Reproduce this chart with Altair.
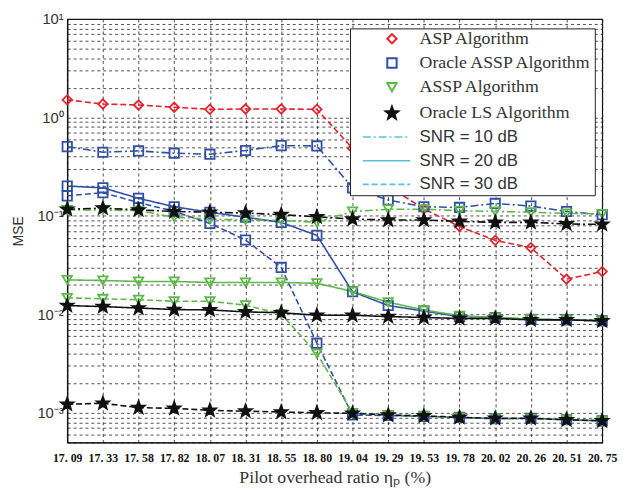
import altair as alt
import pandas as pd

# ---------------- data ----------------
x_labels = ["17.09", "17.33", "17.58", "17.82", "18.07", "18.31", "18.55", "18.80",
            "19.04", "19.29", "19.53", "19.78", "20.02", "20.26", "20.51", "20.75"]

algorithms = ["ASP Algorithm", "Oracle ASSP Algorithm", "ASSP Algorithm", "Oracle LS Algorithm"]
snrs = ["SNR = 10 dB", "SNR = 20 dB", "SNR = 30 dB"]

asp_30 = [1.51, 1.37, 1.34, 1.27, 1.21, 1.22, 1.22, 1.21, 0.486, 0.20, 0.118, 0.078,
          0.0565, 0.0477, 0.0228, 0.0272]

oassp_10 = [0.506, 0.444, 0.458, 0.434, 0.424, 0.462, 0.518, 0.514, 0.193, 0.145, 0.124,
            0.122, 0.134, 0.126, 0.111, 0.103]
oassp_20 = [0.201, 0.193, 0.151, 0.124, 0.109, 0.097, 0.086, 0.0635, 0.017, 0.0123, 0.0108,
            0.0095, 0.0093, 0.0089, 0.0088, 0.0086]
oassp_30 = [0.160, 0.172, 0.137, 0.111, 0.084, 0.057, 0.030, 0.0051, 0.00095, 0.00094,
            0.00092, 0.00090, 0.00087, 0.00088, 0.00085, 0.00083]

assp_10 = [0.115, 0.115, 0.113, 0.097, 0.093, 0.091, 0.090, 0.086, 0.111, 0.117, 0.117,
           0.113, 0.111, 0.109, 0.106, 0.105]
assp_20 = [0.0224, 0.0221, 0.0216, 0.0216, 0.0211, 0.0211, 0.0211, 0.0207, 0.0171, 0.0133,
           0.0111, 0.0097, 0.0093, 0.0090, 0.0088, 0.0086]
assp_30 = [0.0147, 0.0144, 0.0141, 0.0136, 0.0136, 0.0124, 0.0101, 0.0040, 0.00100, 0.00095,
           0.00093, 0.00090, 0.00087, 0.00087, 0.00085, 0.00083]

ols_10 = [0.117, 0.120, 0.115, 0.111, 0.109, 0.107, 0.103, 0.098, 0.093, 0.091, 0.091,
          0.088, 0.086, 0.086, 0.083, 0.082]
ols_20 = [0.0123, 0.0120, 0.0116, 0.0112, 0.0111, 0.0106, 0.0104, 0.0098, 0.0098, 0.0095,
          0.0093, 0.0091, 0.0091, 0.0088, 0.0088, 0.0086]
ols_30 = [0.00122, 0.00125, 0.00113, 0.00111, 0.00106, 0.00104, 0.00102, 0.00100, 0.00099,
          0.00095, 0.00093, 0.00090, 0.00088, 0.00088, 0.00085, 0.00083]

series = [
    (algorithms[0], snrs[2], asp_30),
    (algorithms[1], snrs[0], oassp_10),
    (algorithms[1], snrs[1], oassp_20),
    (algorithms[1], snrs[2], oassp_30),
    (algorithms[2], snrs[0], assp_10),
    (algorithms[2], snrs[1], assp_20),
    (algorithms[2], snrs[2], assp_30),
    (algorithms[3], snrs[0], ols_10),
    (algorithms[3], snrs[1], ols_20),
    (algorithms[3], snrs[2], ols_30),
]

rows = []
for order, (alg, snr, vals) in enumerate(series):
    for xl, v in zip(x_labels, vals):
        rows.append({"ratio": xl, "mse": v, "alg": alg, "snr": snr,
                     "sid": f"{alg}|{snr}", "order": order})
df = pd.DataFrame(rows)

# ---------------- styles ----------------
alg_colors = ["#e8202a", "#2f50a6", "#5cb947", "#111111"]
alg_fills = ["transparent", "transparent", "transparent", "#111111"]
star = ("M0,-1.4L0.34,-0.47L1.33,-0.43L0.55,0.18L0.82,1.13L0,0.57L-0.82,1.13"
        "L-0.55,0.18L-1.33,-0.43L-0.34,-0.47Z")
alg_shapes = ["diamond", "square", "triangle-down", star]
snr_dash = [[8, 3, 2, 3], [1, 0], [6, 3]]

y_values = []
for e in range(-4, 1):
    for k in range(1, 10):
        v = float(f"{k}e{e}")
        if 5e-4 <= v <= 10:
            y_values.append(v)
y_values.append(10.0)

label_expr = (
    "abs(log(datum.value)/LN10 - round(log(datum.value)/LN10)) > 0.001 ? '' : "
    "(round(log(datum.value)/LN10) == 1 ? '10\u00b9' : "
    "round(log(datum.value)/LN10) == 0 ? '10\u2070' : "
    "round(log(datum.value)/LN10) == -1 ? '10\u207b\u00b9' : "
    "round(log(datum.value)/LN10) == -2 ? '10\u207b\u00b2' : "
    "round(log(datum.value)/LN10) == -3 ? '10\u207b\u00b3' : '')"
)

x_enc = alt.X(
    "ratio:O", sort=x_labels,
    scale=alt.Scale(type="point", padding=0),
    axis=alt.Axis(title="Pilot overhead ratio \u03b7\u209a (%)", labelAngle=0,
                  labelExpr="replace(datum.label, '.', '. ')",
                  labelFont="Liberation Serif", labelFontWeight="bold", labelFontSize=12,
                  labelColor="#111", labelPadding=10, ticks=False,
                  titleFont="Liberation Serif", titleFontSize=18, titleFontWeight="normal",
                  titleColor="#333", titlePadding=6,
                  grid=True, gridDash=[3, 3], gridColor="#222", gridWidth=0.8,
                  domainColor="#111", domainWidth=1.2),
)
y_enc = alt.Y(
    "mse:Q",
    scale=alt.Scale(type="log", domain=[5e-4, 10], nice=False),
    axis=alt.Axis(title="MSE", values=y_values, labelExpr=label_expr,
                  labelFont="Liberation Sans", labelFontSize=15, labelColor="#333",
                  labelPadding=4, ticks=False, labelOverlap=False,
                  titleFont="Liberation Sans", titleFontSize=14, titleFontWeight="normal",
                  titleColor="#333", titlePadding=12,
                  grid=True, gridDash=[3, 3], gridColor="#222", gridWidth=0.8,
                  domainColor="#111", domainWidth=1.2),
)

alg_legend = alt.Legend(
    title=None, orient="none", legendX=320, legendY=11, padding=0,
    labelFont="Liberation Serif", labelFontSize=18, labelColor="#333", labelLimit=400,
    labelOffset=19, rowPadding=6.5, symbolSize=90, symbolStrokeWidth=2,
)

stroke_scale = alt.Scale(domain=algorithms, range=alg_colors)

lines = alt.Chart(df).mark_line(strokeWidth=1.6).encode(
    x=x_enc, y=y_enc,
    stroke=alt.Stroke("alg:N", scale=stroke_scale, legend=alg_legend),
    strokeDash=alt.StrokeDash(
        "snr:N", scale=alt.Scale(domain=snrs, range=snr_dash),
        legend=alt.Legend(title=None, orient="none", legendX=315, legendY=111,
                          padding=0, symbolType="M-4.8,0H4.8", symbolSize=100,
                          symbolStrokeColor="#55c3d8", symbolStrokeWidth=1.6,
                          labelFont="Liberation Sans", labelFontSize=17, labelLimit=400,
                          labelColor="#333", labelOffset=25, rowPadding=6)),
    detail="sid:N",
    order="order:Q",
)

points = alt.Chart(df).mark_point(size=90, strokeWidth=1.8, opacity=1).encode(
    x=x_enc, y=y_enc,
    stroke=alt.Stroke("alg:N", scale=stroke_scale, legend=alg_legend),
    fill=alt.Fill("alg:N", scale=alt.Scale(domain=algorithms, range=alg_fills),
                  legend=alg_legend),
    shape=alt.Shape("alg:N", scale=alt.Scale(domain=algorithms, range=alg_shapes),
                    legend=alg_legend),
    order="order:Q",
)

box = alt.Chart(pd.DataFrame({"a": [0]})).mark_rect(
    fill="white", stroke="#222", strokeWidth=1
).encode(x=alt.value(287), x2=alt.value(535), y=alt.value(10), y2=alt.value(179))

chart = alt.layer(lines, points, box).properties(
    width=542, height=429,
    autosize=alt.AutoSizeParams(type="none"),
    padding={"left": 60, "top": 8, "right": 16, "bottom": 48},
    background="white",
).configure_view(stroke="#111", strokeWidth=1.2)

chart.save("out.html", embed_options={"renderer": "svg", "actions": False})
